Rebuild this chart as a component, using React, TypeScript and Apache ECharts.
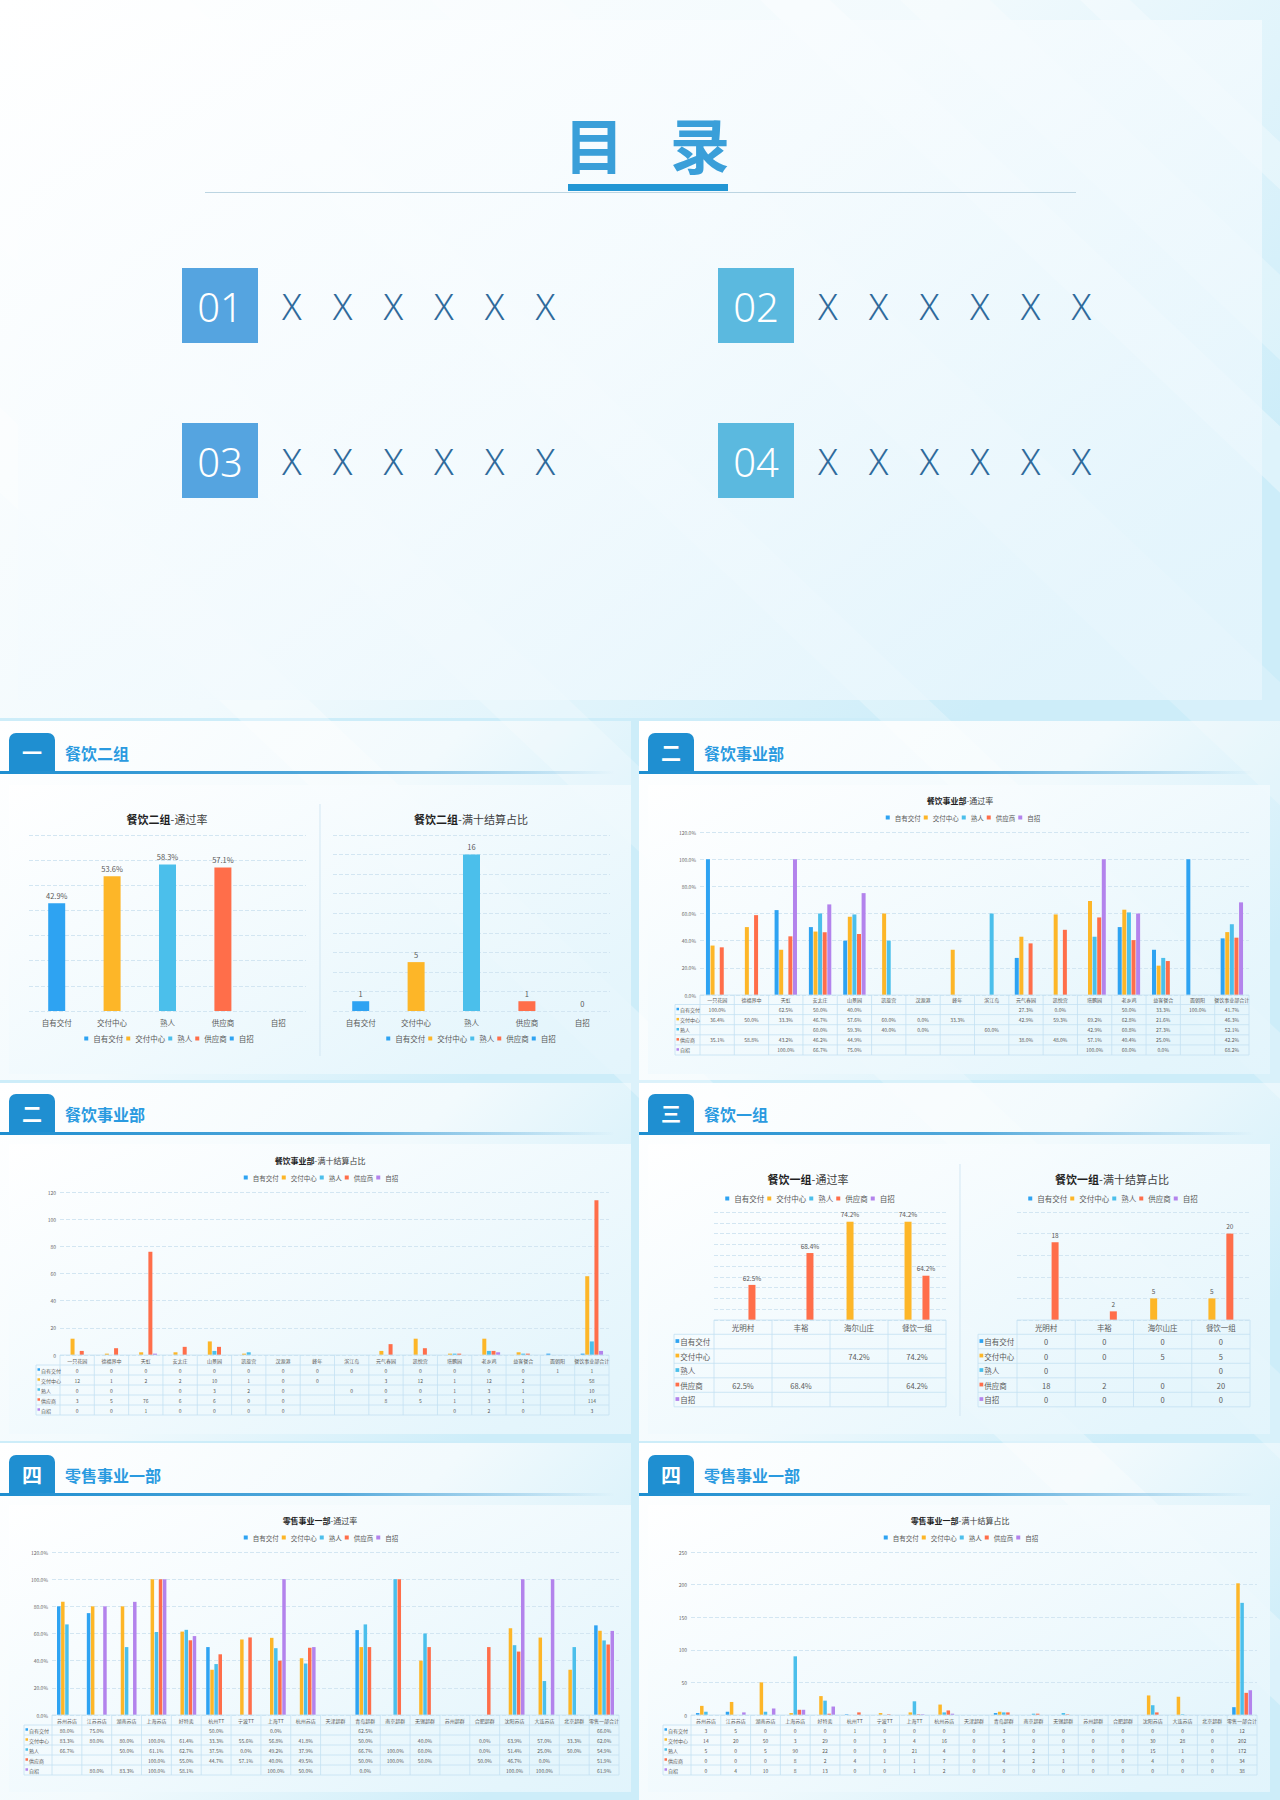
import React, { useEffect, useRef } from 'react';
import * as echarts from 'echarts';

const FONT = '"Noto Sans CJK SC", "Noto Sans", sans-serif';
const LATIN = '"Noto Sans", "Open Sans", sans-serif';
const TEXT = '#595959';

const SERIES_NAMES = ['自有交付', '交付中心', '熟人', '供应商', '自招'];
const SERIES_COLORS = ['#2ea3f2', '#fdb628', '#4bbfeb', '#ff6e4a', '#b383ec'];

// 目录
const TOC_NUMBERS = ['01', '02', '03', '04'];
const TOC_LABELS = ['X X X X X X', 'X X X X X X', 'X X X X X X', 'X X X X X X'];

// section headers
const SECTION_TABS = ['一', '二', '二', '三', '四', '四'];
const SECTION_TITLES = ['餐饮二组', '餐饮事业部', '餐饮事业部', '餐饮一组', '零售事业一部', '零售事业一部'];

// 餐饮二组
const G2_CATS = ['自有交付', '交付中心', '熟人', '供应商', '自招'];
const G2_COLORS = ['#2ea3f2', '#fdb628', '#4bbfeb', '#ff6e4a', '#2ea3f2'];
const G2_PASS = [42.9, 53.6, 58.3, 57.1, null];
const G2_FULL = [1, 5, 16, 1, 0];

// 餐饮事业部
const CY_CATS = ['一只花园', '德福界中', '天虹', '安太庄', '山景园', '凯旋宫', '汉源港', '峰年', '滨江岛', '元气春园', '凯悦宫', '塔鹏园', '老乡鸡', '益客餐合', '面朝阳', '餐饮事业部合计'];
const CY_PASS_ZYJF = [100, null, 62.5, 50, 40, null, null, null, null, 27.3, 0, null, 50, 33.3, 100, 41.7];
const CY_PASS_JFZX = [36.4, 50, 33.3, 46.7, 57.6, 60, 0, 33.3, null, 42.9, 59.3, 69.2, 62.8, 21.6, null, 46.3];
const CY_PASS_SR = [null, null, null, 60, 59.3, 40, 0, null, 60, null, null, 42.9, 60.8, 27.3, null, 52.1];
const CY_PASS_GYS = [35.1, 58.8, 43.2, 46.2, 44.9, null, null, null, null, 38.0, 48.0, 57.1, 40.4, 25.0, null, 42.2];
const CY_PASS_ZZ = [null, null, 100, 66.7, 75, null, null, null, null, null, null, 100, 60, 0, null, 68.2];
const CY_FULL_ZYJF = [0, 0, 0, 0, 0, 0, 0, 0, 0, 0, 0, 0, 0, 0, 1, 1];
const CY_FULL_JFZX = [12, 1, 2, 2, 10, 1, 0, 0, null, 3, 12, 1, 12, 2, null, 58];
const CY_FULL_SR = [0, 0, null, 0, 3, 2, 0, null, 0, 0, 0, 1, 3, 1, null, 10];
const CY_FULL_GYS = [3, 5, 76, 6, 6, 0, 0, null, null, 8, 5, 1, 3, 1, null, 114];
const CY_FULL_ZZ = [0, 0, 1, 0, 0, 0, 0, null, null, null, null, 0, 2, 0, null, 3];

// 餐饮一组
const YZ_CATS = ['光明村', '丰裕', '海尔山庄', '餐饮一组'];
const YZ_PASS_ZYJF = [null, null, null, null];
const YZ_PASS_JFZX = [null, null, 74.2, 74.2];
const YZ_PASS_SR = [null, null, null, null];
const YZ_PASS_GYS = [62.5, 68.4, null, 64.2];
const YZ_PASS_ZZ = [null, null, null, null];
const YZ_FULL_ZYJF = [0, 0, 0, 0];
const YZ_FULL_JFZX = [0, 0, 5, 5];
const YZ_FULL_SR = [0, null, null, 0];
const YZ_FULL_GYS = [18, 2, 0, 20];
const YZ_FULL_ZZ = [0, 0, 0, 0];

// 零售事业一部
const LS_CATS = ['苏州苏店', '江苏苏店', '湖南苏店', '上海苏店', '好特卖', '杭州TT', '宁波TT', '上海TT', '杭州苏店', '天津超群', '青岛超群', '南京超群', '无锡超群', '苏州超群', '合肥超群', '沈阳苏店', '大连苏店', '北京超群', '零售一部合计'];
const LS_PASS_ZYJF = [80, 75, null, null, null, 50, null, 0, null, null, 62.5, null, null, null, null, null, null, null, 66.0];
const LS_PASS_JFZX = [83.3, 80, 80, 100, 61.4, 33.3, 55.6, 56.8, 41.8, null, 50, null, 40, null, 0, 63.9, 57.0, 33.3, 62.0];
const LS_PASS_SR = [66.7, null, 50, 61.1, 62.7, 37.5, 0, 49.2, 37.9, null, 66.7, 100, 60, null, 0, 51.4, 25, 50, 54.9];
const LS_PASS_GYS = [null, null, null, 100, 55.0, 44.7, 57.1, 40, 49.5, null, 50, 100, 50, null, 50, 46.7, 0, null, 51.9];
const LS_PASS_ZZ = [null, 80, 83.3, 100, 58.1, null, null, 100, 50, null, 0, null, null, null, null, 100, 100, null, 61.9];
const LS_FULL_ZYJF = [3, 5, 0, 0, 0, 1, 0, 0, 0, 0, 3, 0, 0, 0, 0, 0, 0, 0, 12];
const LS_FULL_JFZX = [14, 20, 50, 3, 29, 0, 3, 4, 16, 0, 5, 0, 0, 0, 0, 30, 28, 0, 202];
const LS_FULL_SR = [5, 0, 5, 90, 22, 0, 0, 21, 4, 0, 4, 2, 3, 0, 0, 15, 1, 0, 172];
const LS_FULL_GYS = [0, 0, 0, 8, 2, 4, 1, 1, 7, 0, 4, 2, 1, 0, 0, 4, 0, 0, 34];
const LS_FULL_ZZ = [0, 4, 10, 8, 13, 0, 0, 1, 2, 0, 0, 0, 0, 0, 0, 0, 0, 0, 38];

const pct = (v: number) => v.toFixed(1) + '%';
const int = (v: number) => String(v);

const grad = (x2: number, y2: number, stops: [number, string][]) => ({
  type: 'linear', x: 0, y: 0, x2, y2, global: false,
  colorStops: stops.map(([offset, color]) => ({ offset, color })),
});

function buildOption(): any {
  const grid: any[] = [], xAxis: any[] = [], yAxis: any[] = [], series: any[] = [], legend: any[] = [], g: any[] = [];
  const push = (el: any) => g.push({ silent: true, ...el });
  const line = (x1: number, y1: number, x2: number, y2: number, stroke: string, lineWidth = 1, z = 5) =>
    push({ type: 'line', z, shape: { x1, y1, x2, y2 }, style: { stroke, lineWidth } });
  const text = (t: string, x: number, y: number, size: number, o: any = {}) =>
    push({
      type: 'text', z: o.z ?? 10, x, y,
      style: { text: t, fontSize: size, fontFamily: o.font ?? FONT, fontWeight: o.weight ?? 'normal', fill: o.color ?? TEXT, align: o.align ?? 'center', verticalAlign: 'middle' },
    });
  const rect = (x: number, y: number, width: number, height: number, fill: any, z: number, r: any = 0) =>
    push({ type: 'rect', z, shape: { x, y, width, height, r }, style: { fill } });

  // ---------- backgrounds ----------
  rect(0, 0, 1280, 1800, '#cdedf9', -100);
  const slideFill = grad(1, 0.6, [[0, '#ffffff'], [0.55, '#f2fafd'], [1, '#cdedf9']]);
  const panelFill = grad(1, 1, [[0, 'rgba(255,255,255,0.9)'], [1, 'rgba(228,245,252,0.88)']]);
  rect(0, 0, 1280, 718, slideFill, -90);
  const ROWS = [
    { top: 721, bottom: 1080, tab: 733, pTop: 785, pBottom: 1074 },
    { top: 1083, bottom: 1441, tab: 1094, pTop: 1144, pBottom: 1434 },
    { top: 1443, bottom: 1800, tab: 1455, pTop: 1505, pBottom: 1792 },
  ];
  ROWS.forEach((r) => {
    rect(0, r.top, 631, r.bottom - r.top, slideFill, -90);
    rect(639, r.top, 641, r.bottom - r.top, slideFill, -90);
  });
  const STRIPES: [number, number, number][] = [
    [-520, -430, 0.3], [-260, -170, 0.22], [120, 190, 0.25], [430, 560, 0.2], [760, 830, 0.35], [900, 990, 0.25], [1080, 1130, 0.3],
  ];
  STRIPES.forEach(([c1, c2, op]) =>
    push({ type: 'polygon', z: -80, shape: { points: [[c1, 0], [c2, 0], [c2 + 1900, 1800], [c1 + 1900, 1800]] }, style: { fill: `rgba(255,255,255,${op})` } })
  );
  rect(18, 20, 1244, 680, grad(1, 1, [[0, 'rgba(255,255,255,0.85)'], [1, 'rgba(232,246,253,0.75)']]), -70);

  // ---------- 目录 ----------
  text('目', 594, 142, 60, { weight: 'bold', color: '#3a9fd9' });
  text('录', 700, 142, 60, { weight: 'bold', color: '#3a9fd9' });
  line(205, 192.5, 1076, 192.5, '#bcd5e2', 1, 4);
  rect(568, 184, 160, 7, '#2296d4', 5);
  TOC_NUMBERS.forEach((num, i) => {
    const bx = i % 2 === 0 ? 182 : 718;
    const by = i < 2 ? 268 : 423;
    rect(bx, by, 76, 75, i % 2 === 0 ? '#55a4e0' : '#5bb9df', 5);
    text(num, bx + 38, by + 38, 40, { color: '#ffffff', font: LATIN, weight: 300 });
    text(TOC_LABELS[i].split(' ').join('\u2002\u200A '), bx + 100, by + 38, 36, { color: '#2f6a9b', align: 'left', font: LATIN, weight: 300 });
  });

  // ---------- section headers ----------
  SECTION_TITLES.forEach((title, i) => {
    const isLeft = i % 2 === 0;
    const sx = isLeft ? 0 : 639;
    const r = ROWS[Math.floor(i / 2)];
    rect(sx + 9, r.pTop, 622, r.pBottom - r.pTop, panelFill, -70);
    rect(sx + 9, r.tab, 46, 38, '#1f8fd1', 5, [7, 7, 0, 0]);
    rect(sx, r.tab + 38, 615, 3, grad(1, 0, [[0, '#1e8ed0'], [0.55, 'rgba(30,142,208,0.75)'], [1, 'rgba(30,142,208,0)']]), 5);
    text(SECTION_TABS[i], sx + 32, r.tab + 19, 20, { weight: 'bold', color: '#ffffff' });
    text(title, sx + 65, r.tab + 20, 16, { weight: 'bold', color: '#2a9ae0', align: 'left' });
  });
  line(320, 804, 320, 1056, '#d3e7f3', 1, 4);
  line(960, 1164, 960, 1416, '#d3e7f3', 1, 4);

  // ---------- chart helpers ----------
  const addChart = (c: any) => {
    const k = grid.length;
    grid.push({ left: c.left, top: c.top, width: c.right - c.left, height: c.bottom - c.top });
    xAxis.push({
      type: 'category', gridIndex: k, data: c.cats, axisLine: { show: false }, axisTick: { show: false },
      axisLabel: c.xLabel ? { show: true, interval: 0, fontSize: c.xLabel, color: TEXT, margin: 8, fontFamily: FONT } : { show: false },
    });
    yAxis.push({
      type: 'value', gridIndex: k, min: c.yMin, max: c.yMax, interval: c.yInterval,
      axisLine: { show: false }, axisTick: { show: false },
      axisLabel: c.yLabel ? { show: true, fontSize: c.yLabel, color: '#666666', margin: 4, fontFamily: FONT, formatter: (v: number) => c.yFmt(v) } : { show: false },
      splitLine: { show: true, lineStyle: { type: 'dashed', color: '#d3e6f2', width: 1 } },
    });
    c.rows.forEach((row: (number | null)[], r: number) =>
      series.push({
        type: 'bar', name: c.names[r], xAxisIndex: k, yAxisIndex: k, data: row,
        barWidth: c.barWidth, barGap: c.barGap, clip: true, silent: true,
        itemStyle: { color: c.colors[r] },
        label: c.labelSize
          ? {
              show: true, position: 'top', distance: 4, fontSize: c.labelSize, color: TEXT, fontFamily: FONT,
              formatter: (p: any) => (p.value == null || (c.hideZero && p.value === 0) ? '' : c.labelFmt(p.value)),
            }
          : { show: false },
      })
    );
  };
  const addLegend = (cx: number, cy: number, size: number, icon: number, gap: number, colors: string[]) => {
    const w = SERIES_NAMES.reduce((s, n) => s + icon + 5 + n.length * size, 0) + gap * (SERIES_NAMES.length - 1);
    legend.push({
      left: cx - w / 2, top: cy - size / 2 - 0.5, padding: 0, itemWidth: icon, itemHeight: icon, itemGap: gap,
      icon: 'rect', selectedMode: false, textStyle: { fontSize: size, color: TEXT, fontFamily: FONT },
      data: SERIES_NAMES.map((n, i) => ({ name: n, itemStyle: { color: colors[i] } })),
    });
  };
  const addTitle = (cx: number, cy: number, size: number, bold: string, normal: string) =>
    push({
      type: 'text', z: 10, x: cx, y: cy,
      style: {
        text: `{b|${bold}}{n|${normal}}`, align: 'center', verticalAlign: 'middle',
        rich: { b: { fontSize: size, fontWeight: 'bold', fill: '#1f1f1f', fontFamily: FONT }, n: { fontSize: size, fill: '#404040', fontFamily: FONT } },
      },
    });
  const addTable = (t: any) => {
    const n = t.cats.length;
    const w = (t.right - t.left) / n;
    const bodyTop = t.top + t.headH;
    const bottom = bodyTop + t.rowH * t.rows.length;
    const stroke = '#c4e1f2';
    line(t.left, t.top, t.right, t.top, stroke, 0.8, 6);
    for (let r = 0; r <= t.rows.length; r++) line(t.labelLeft, bodyTop + r * t.rowH, t.right, bodyTop + r * t.rowH, stroke, 0.8, 6);
    line(t.labelLeft, bodyTop, t.labelLeft, bottom, stroke, 0.8, 6);
    for (let i = 0; i <= n; i++) line(t.left + i * w, t.top, t.left + i * w, bottom, stroke, 0.8, 6);
    t.cats.forEach((c: string, i: number) => text(c, t.left + (i + 0.5) * w, t.top + t.headH / 2, t.size));
    const sq = Math.max(2, t.size * 0.5);
    t.rows.forEach((row: (number | null)[], r: number) => {
      const cy = bodyTop + (r + 0.5) * t.rowH;
      rect(t.labelLeft + 1.5, cy - sq / 2 - 0.5, sq, sq, SERIES_COLORS[r], 9);
      text(SERIES_NAMES[r], t.labelLeft + 2.5 + sq, cy, t.size, { align: 'left' });
      row.forEach((v, i) => {
        if (v != null) text(t.fmt(v), t.left + (i + 0.5) * w, cy, t.size);
      });
    });
  };

  // ---------- 餐饮二组 ----------
  addTitle(167, 819, 11, '餐饮二组', '-通过率');
  addChart({
    left: 29, right: 306, top: 835, bottom: 1011, cats: G2_CATS, names: G2_CATS, colors: G2_COLORS,
    rows: G2_CATS.map((_, r) => G2_PASS.map((v, j) => (j === r ? v : null))),
    yMin: 0, yMax: 70, yInterval: 10, barWidth: 17, barGap: '-100%', xLabel: 7.5, labelSize: 7.5, labelFmt: pct,
  });
  addLegend(169, 1039, 7.5, 4, 3, G2_COLORS);
  addTitle(471, 819, 11, '餐饮二组', '-满十结算占比');
  addChart({
    left: 333, right: 610, top: 835, bottom: 1011, cats: G2_CATS, names: G2_CATS, colors: G2_COLORS,
    rows: G2_CATS.map((_, r) => G2_FULL.map((v, j) => (j === r ? v : null))),
    yMin: 0, yMax: 18, yInterval: 2, barWidth: 17, barGap: '-100%', xLabel: 7.5, labelSize: 7.5, labelFmt: int,
  });
  addLegend(471, 1039, 7.5, 4, 3, G2_COLORS);

  // ---------- 餐饮事业部 通过率 ----------
  const cyPass = [CY_PASS_ZYJF, CY_PASS_JFZX, CY_PASS_SR, CY_PASS_GYS, CY_PASS_ZZ];
  addTitle(960, 800, 8, '餐饮事业部', '-通过率');
  addLegend(963, 818, 6.5, 4, 3, SERIES_COLORS);
  addChart({
    left: 700, right: 1249, top: 832, bottom: 995, cats: CY_CATS, names: SERIES_NAMES, colors: SERIES_COLORS, rows: cyPass,
    yMin: 0, yMax: 120, yInterval: 20, yLabel: 5, yFmt: pct, barWidth: 4, barGap: '15%',
  });
  addTable({ left: 700, right: 1249, top: 995, headH: 9.5, rowH: 10.1, labelLeft: 675, size: 5, cats: CY_CATS, rows: cyPass, fmt: pct });

  // ---------- 餐饮事业部 满十结算占比 ----------
  const cyFull = [CY_FULL_ZYJF, CY_FULL_JFZX, CY_FULL_SR, CY_FULL_GYS, CY_FULL_ZZ];
  addTitle(320, 1160, 8, '餐饮事业部', '-满十结算占比');
  addLegend(321, 1178, 6.5, 4, 3, SERIES_COLORS);
  addChart({
    left: 60, right: 609, top: 1192, bottom: 1355, cats: CY_CATS, names: SERIES_NAMES, colors: SERIES_COLORS, rows: cyFull,
    yMin: 0, yMax: 120, yInterval: 20, yLabel: 5, yFmt: int, barWidth: 4, barGap: '15%',
  });
  addTable({ left: 60, right: 609, top: 1355, headH: 10, rowH: 10, labelLeft: 36, size: 5, cats: CY_CATS, rows: cyFull, fmt: int });

  // ---------- 餐饮一组 ----------
  const yzPass = [YZ_PASS_ZYJF, YZ_PASS_JFZX, YZ_PASS_SR, YZ_PASS_GYS, YZ_PASS_ZZ];
  const yzFull = [YZ_FULL_ZYJF, YZ_FULL_JFZX, YZ_FULL_SR, YZ_FULL_GYS, YZ_FULL_ZZ];
  addTitle(808, 1179, 11, '餐饮一组', '-通过率');
  addLegend(810, 1199, 7.5, 4, 3, SERIES_COLORS);
  addChart({
    left: 714, right: 946, top: 1212, bottom: 1320, cats: YZ_CATS, names: SERIES_NAMES, colors: SERIES_COLORS, rows: yzPass,
    yMin: 56, yMax: 76, yInterval: 2, barWidth: 7, barGap: '28%', labelSize: 6.5, labelFmt: pct,
  });
  addTable({ left: 714, right: 946, top: 1320, headH: 14.3, rowH: 14.5, labelLeft: 674, size: 7.5, cats: YZ_CATS, rows: yzPass, fmt: pct });
  addTitle(1112, 1179, 11, '餐饮一组', '-满十结算占比');
  addLegend(1113, 1199, 7.5, 4, 3, SERIES_COLORS);
  addChart({
    left: 1017, right: 1250, top: 1212, bottom: 1320, cats: YZ_CATS, names: SERIES_NAMES, colors: SERIES_COLORS, rows: yzFull,
    yMin: 0, yMax: 25, yInterval: 5, barWidth: 7, barGap: '28%', labelSize: 6.5, labelFmt: int, hideZero: true,
  });
  addTable({ left: 1017, right: 1250, top: 1320, headH: 14.3, rowH: 14.5, labelLeft: 978, size: 7.5, cats: YZ_CATS, rows: yzFull, fmt: int });

  // ---------- 零售事业一部 ----------
  const lsPass = [LS_PASS_ZYJF, LS_PASS_JFZX, LS_PASS_SR, LS_PASS_GYS, LS_PASS_ZZ];
  const lsFull = [LS_FULL_ZYJF, LS_FULL_JFZX, LS_FULL_SR, LS_FULL_GYS, LS_FULL_ZZ];
  addTitle(320, 1520, 8, '零售事业一部', '-通过率');
  addLegend(321, 1538, 6.5, 4, 3, SERIES_COLORS);
  addChart({
    left: 52, right: 619, top: 1552, bottom: 1715, cats: LS_CATS, names: SERIES_NAMES, colors: SERIES_COLORS, rows: lsPass,
    yMin: 0, yMax: 120, yInterval: 20, yLabel: 5, yFmt: pct, barWidth: 3.5, barGap: '17%',
  });
  addTable({ left: 52, right: 619, top: 1715, headH: 10, rowH: 10, labelLeft: 24, size: 5, cats: LS_CATS, rows: lsPass, fmt: pct });
  addTitle(960, 1520, 8, '零售事业一部', '-满十结算占比');
  addLegend(961, 1538, 6.5, 4, 3, SERIES_COLORS);
  addChart({
    left: 691, right: 1257, top: 1552, bottom: 1715, cats: LS_CATS, names: SERIES_NAMES, colors: SERIES_COLORS, rows: lsFull,
    yMin: 0, yMax: 250, yInterval: 50, yLabel: 5, yFmt: int, barWidth: 3.5, barGap: '17%',
  });
  addTable({ left: 691, right: 1257, top: 1715, headH: 10, rowH: 10, labelLeft: 663, size: 5, cats: LS_CATS, rows: lsFull, fmt: int });

  return {
    animation: false,
    textStyle: { fontFamily: FONT },
    grid, xAxis, yAxis, series, legend,
    graphic: { elements: g },
  };
}

export default function App() {
  const ref = useRef<HTMLDivElement>(null);
  useEffect(() => {
    document.body.style.margin = '0';
    const chart = echarts.init(ref.current as HTMLDivElement, null, { renderer: 'svg', width: 1280, height: 1800 });
    chart.setOption(buildOption());
    return () => chart.dispose();
  }, []);
  return <div ref={ref} style={{ width: 1280, height: 1800 }} />;
}
